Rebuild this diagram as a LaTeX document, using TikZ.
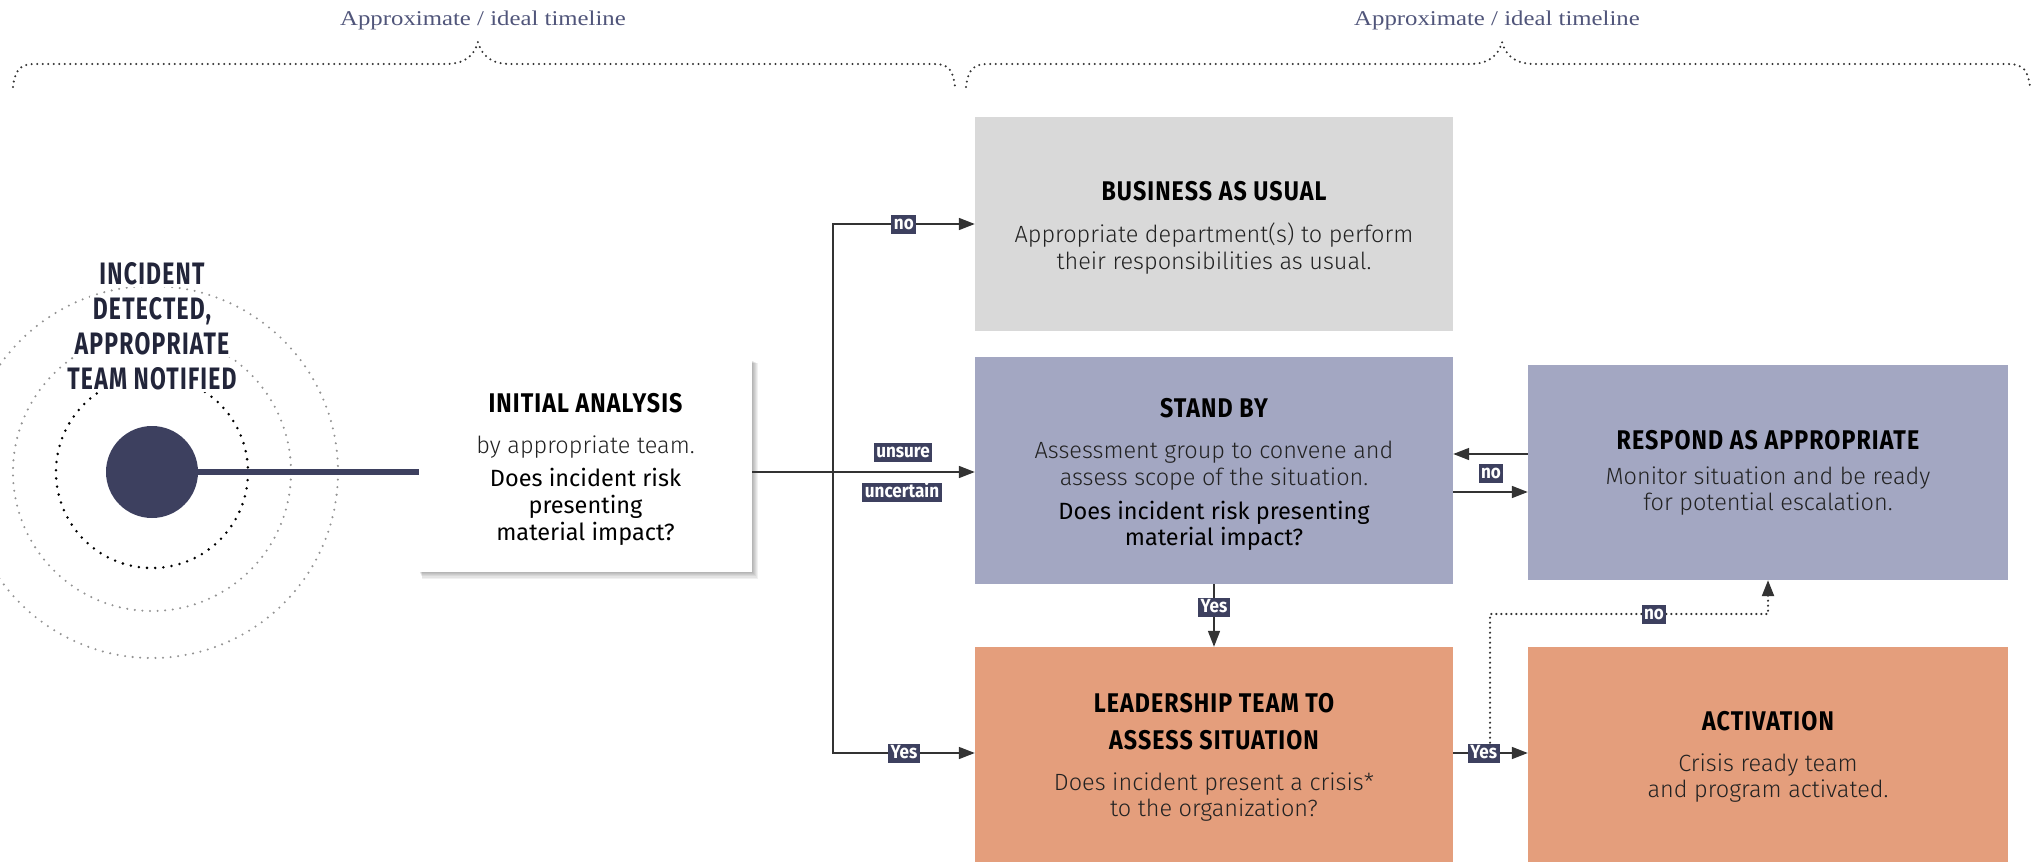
\documentclass[tikz,border=0pt]{standalone}
\usepackage{fontspec}
\usetikzlibrary{arrows.meta}
\setmainfont{Fira Sans}
\newfontfamily\hdfont{Fira Sans}[FakeStretch=0.86,LetterSpace=4]
\newfontfamily\incfont{Fira Sans}[FakeStretch=0.74,LetterSpace=4]
\newfontfamily\lightfont{Fira Sans Light}
\newfontfamily\lblfont{Fira Sans}[FakeStretch=0.9]
\newfontfamily\tlfont{Liberation Serif}[FakeStretch=1.18]
\definecolor{navy}{HTML}{3D405F}
\definecolor{lav}{HTML}{A3A7C2}
\definecolor{lgray}{HTML}{D9D9D9}
\definecolor{salmon}{HTML}{E49E7C}
\definecolor{arrowc}{HTML}{333333}
\definecolor{tlc}{HTML}{50557A}
\definecolor{textc}{HTML}{222222}
\definecolor{inc}{HTML}{22253A}
\begin{document}
\begin{tikzpicture}[x=1pt,y=-1pt,
  arr/.style={draw=arrowc,line width=1.6pt,-{Triangle[length=16pt,width=12pt]}},
  dotarr/.style={draw=arrowc,line width=2.4pt,dash pattern=on 0pt off 5pt,line cap=round,-{Triangle[length=16pt,width=12pt]}},
  lbl/.style={fill=navy,text=white,font=\lblfont\bfseries\fontsize{19}{19}\selectfont,inner xsep=2.5pt,inner ysep=1.5pt,text height=13pt,text depth=3pt},
  boxshape/.style={rectangle,inner sep=0pt,draw=none},
  ttl/.style={anchor=base,font=\hdfont\bfseries\fontsize{27}{27}\selectfont,text=black,inner sep=0pt},
  body/.style={anchor=base,font=\lightfont\fontsize{23.5}{27}\selectfont,text=textc,inner sep=0pt},
  qst/.style={anchor=base,font=\fontsize{23.5}{27}\selectfont,text=black,inner sep=0pt},
  inctxt/.style={anchor=base,font=\incfont\bfseries\fontsize{31}{31}\selectfont,text=inc,fill=white,inner xsep=3pt,inner ysep=1pt,text height=22pt,text depth=2pt},
  tl/.style={font=\tlfont\fontsize{21}{21}\selectfont,text=tlc},
  brc/.style={draw=arrowc,line width=2.3pt,dash pattern=on 0pt off 5.5pt,line cap=round},
  shade/.style={fill=black,opacity=0.055},
]
\useasboundingbox (0,0) rectangle (2035,862);

% timeline headings and braces
\node[tl] (tl1) at (483,20) {Approximate / ideal timeline};
\node[tl] (tl2) at (1497,20) {Approximate / ideal timeline};
\draw[brc] (13,87) .. controls (15,70) and (20,64) .. (35,64) -- (445,64)
  .. controls (465,64) and (474,56) .. (478,42)
  .. controls (482,56) and (491,64) .. (511,64) -- (934,64)
  .. controls (949,64) and (953,70) .. (955,87);
\draw[brc] (966,87) .. controls (968,70) and (973,64) .. (988,64) -- (1469,64)
  .. controls (1489,64) and (1498,56) .. (1502,42)
  .. controls (1506,56) and (1515,64) .. (1535,64) -- (2008,64)
  .. controls (2023,64) and (2028,70) .. (2030,87);

% concentric circles
\draw[gray!85,line width=2.3pt,dash pattern=on 0pt off 7.6pt,line cap=round] (152,472) circle[radius=186];
\draw[gray!85,line width=2.3pt,dash pattern=on 0pt off 7.6pt,line cap=round] (152,472) circle[radius=139];
\draw[black,line width=2.8pt,dash pattern=on 0pt off 8.2pt,line cap=round] (152,472) circle[radius=96];

% soft shadow of the initial analysis box
\foreach \d in {1,2,3,4,5,6}
  \fill[shade] (419+\d*0.5,360+\d*0.5) rectangle (752+\d,572+\d*1.1);

% boxes
\node[boxshape,fill=white,minimum width=333pt,minimum height=212pt] (ia) at (585.5,466) {};
\node[boxshape,fill=lgray,minimum width=478pt,minimum height=214pt] (bau) at (1214,224) {};
\node[boxshape,fill=lav,minimum width=478pt,minimum height=227pt] (sb) at (1214,470.5) {};
\node[boxshape,fill=lav,minimum width=480pt,minimum height=215pt] (resp) at (1768,472.5) {};
\node[boxshape,fill=salmon,minimum width=478pt,minimum height=215pt] (lead) at (1214,754.5) {};
\node[boxshape,fill=salmon,minimum width=480pt,minimum height=215pt] (act) at (1768,754.5) {};

% origin dot and stem
\node[circle,fill=navy,minimum size=92pt,inner sep=0pt] (dot) at (152,472) {};
\draw[navy,line width=6pt] (dot.center) -- (ia.west |- dot.center);

% incident text
\node[inctxt] (inc1) at (152,284) {INCIDENT};
\node[inctxt] (inc2) at (152,319) {DETECTED,};
\node[inctxt] (inc3) at (152,354) {APPROPRIATE};
\node[inctxt] (inc4) at (152,389) {TEAM NOTIFIED};

% initial analysis text
\node[ttl] (iat) at (585.5,412) {INITIAL ANALYSIS};
\node[body] (iab) at (585.5,453) {by appropriate team.};
\node[qst] (iaq1) at (585.5,486) {Does incident risk};
\node[qst] (iaq2) at (585.5,513) {presenting};
\node[qst] (iaq3) at (585.5,540) {material impact?};

% business as usual text
\node[ttl] (baut) at (1214,200) {BUSINESS AS USUAL};
\node[body] (baub1) at (1214,242) {Appropriate department(s) to perform};
\node[body] (baub2) at (1214,269) {their responsibilities as usual.};

% stand by text
\node[ttl] (sbt) at (1214,417) {STAND BY};
\node[body] (sbb1) at (1214,458) {Assessment group to convene and};
\node[body] (sbb2) at (1214,485) {assess scope of the situation.};
\node[qst] (sbq1) at (1214,519) {Does incident risk presenting};
\node[qst] (sbq2) at (1214,545) {material impact?};

% respond text
\node[ttl] (rt) at (1768,449) {RESPOND AS APPROPRIATE};
\node[body] (rb1) at (1768,484) {Monitor situation and be ready};
\node[body] (rb2) at (1768,510) {for potential escalation.};

% leadership text
\node[ttl] (lt1) at (1214,712) {LEADERSHIP TEAM TO};
\node[ttl] (lt2) at (1214,749) {ASSESS SITUATION};
\node[body] (lb1) at (1214,790) {Does incident present a crisis*};
\node[body] (lb2) at (1214,816) {to the organization?};

% activation text
\node[ttl] (at) at (1768,730) {ACTIVATION};
\node[body] (ab1) at (1768,771) {Crisis ready team};
\node[body] (ab2) at (1768,797) {and program activated.};

% connectors
\coordinate (jn) at (833,472);
\draw[arr] (ia.east |- dot.center) -- (sb.west |- dot.center);
\node[lbl] (unsure) at (903,452) {unsure};
\node[lbl] (uncert) at (902,492) {uncertain};
\draw[arr] (jn) |- node[lbl,pos=0.75] (no1) {no} (bau.west);
\coordinate (ly) at (833,753);
\draw[arr] (jn) |- node[lbl,pos=0.75] (yes1) {Yes} (lead.west |- ly);
\coordinate (upy) at (1453,454);
\coordinate (dny) at (1453,492);
\draw[arr] (resp.west |- upy) -- (sb.east |- upy);
\draw[arr] (sb.east |- dny) -- (resp.west |- dny);
\node[lbl] (no2) at (1491,473) {no};
\draw[arr] (sb.south) -- node[lbl,pos=0.37] (yes2) {Yes} (lead.north);
\draw[arr] (lead.east |- ly) -- node[lbl,pos=0.41] (yes3) {Yes} (act.west |- ly);
\coordinate (dtop) at (1490,614);
\draw[dotarr] (yes3.north -| dtop) -- (dtop) -- node[lbl,pos=0.59] (no3) {no} (dtop -| resp.south) -- (resp.south);
\end{tikzpicture}
\end{document}
